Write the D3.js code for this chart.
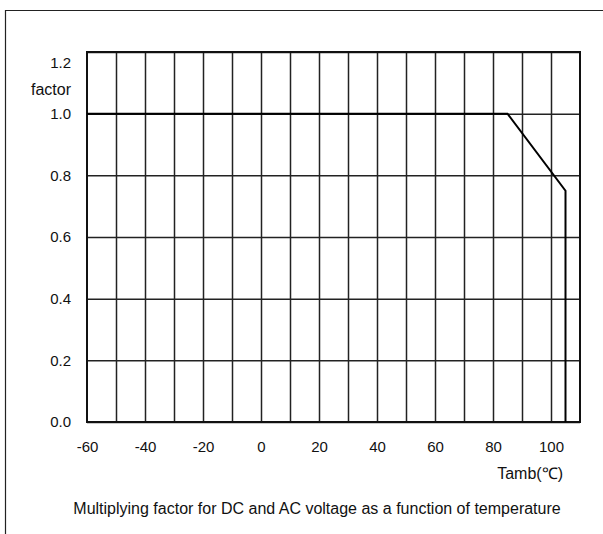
<!DOCTYPE html>
<html>
<head>
	<script src="https://cdnjs.cloudflare.com/ajax/libs/d3/7.8.2/d3.min.js"></script>
	<style>
		body { margin: 0 ; background: white ; }
		svg { display: block ; font-family: "Liberation Sans", Arial, sans-serif ; }
	</style>
</head>
<body>
	<svg id="canvas"></svg>
<script>
	// derating curve: multiplying factor vs ambient temperature
	let curveTemp = [ -60, 85, 105, 105 ] ;
	let curveFactor = [ 1.0, 1.0, 0.75, 0.0 ] ;

	let xTickLabels = [ -60, -40, -20, 0, 20, 40, 60, 80, 100 ] ;
	let xGrid = [ -50, -40, -30, -20, -10, 0, 10, 20, 30, 40, 50, 60, 70, 80, 90, 100 ] ;
	let yTickLabels = [ 0.0, 0.2, 0.4, 0.6, 0.8, 1.0, 1.2 ] ;

	let geom = {
		width: 603,
		height: 534,
		margin: { left: 87, right: 23, top: 52, bottom: 112 }
	} ;

	let scales = {
		x: d3.scaleLinear()
			.domain( [ -60, 110 ] )
			.range( [ geom.margin.left, geom.width - geom.margin.right ] ),
		y: d3.scaleLinear()
			.domain( [ 0, 1.2 ] )
			.range( [ geom.height - geom.margin.bottom, geom.margin.top ] )
	} ;

	let svg = d3.select( 'svg' )
		.attr( 'width', geom.width )
		.attr( 'height', geom.height ) ;

	// outer frame (only top and left edges are visible)
	svg.append( 'path' )
		.attr( 'd', 'M5.5,534 L5.5,10.5 L603,10.5' )
		.attr( 'fill', 'none' )
		.attr( 'stroke', '#222' )
		.attr( 'stroke-width', 1.2 ) ;

	let plotBottom = scales.y( 0 ) ;
	let plotTop = scales.y( 1.2 ) ;
	let plotLeft = scales.x( -60 ) ;
	let plotRight = scales.x( 110 ) ;

	// vertical grid
	svg.append( 'g' )
		.attr( 'class', 'xgrid' )
		.attr( 'transform', 'translate(0,' + plotBottom + ')' )
		.call( d3.axisBottom( scales.x )
			.tickValues( xGrid )
			.tickSize( -( plotBottom - plotTop ) )
			.tickFormat( '' ) )
		.call( g => g.select( '.domain' ).remove() )
		.selectAll( 'line' )
			.attr( 'stroke', '#222' )
			.attr( 'stroke-width', 1.5 ) ;

	// horizontal grid
	svg.append( 'g' )
		.attr( 'class', 'ygrid' )
		.attr( 'transform', 'translate(' + plotLeft + ',0)' )
		.call( d3.axisLeft( scales.y )
			.tickValues( yTickLabels )
			.tickSize( -( plotRight - plotLeft ) )
			.tickFormat( '' ) )
		.call( g => g.select( '.domain' ).remove() )
		.selectAll( 'line' )
			.attr( 'stroke', '#222' )
			.attr( 'stroke-width', 1.5 ) ;

	// plot frame
	svg.append( 'rect' )
		.attr( 'x', plotLeft )
		.attr( 'y', plotTop )
		.attr( 'width', plotRight - plotLeft )
		.attr( 'height', plotBottom - plotTop )
		.attr( 'fill', 'none' )
		.attr( 'stroke', '#111' )
		.attr( 'stroke-width', 2 ) ;

	// x tick labels (plain hyphen for negatives, as in the original)
	let xaxis = svg.append( 'g' )
		.attr( 'class', 'xaxis' )
		.attr( 'transform', 'translate(0,' + plotBottom + ')' )
		.call( d3.axisBottom( scales.x )
			.tickValues( xTickLabels )
			.tickSize( 0 )
			.tickPadding( 19 )
			.tickFormat( d => String( d ) ) ) ;
	xaxis.select( '.domain' ).remove() ;
	xaxis.selectAll( 'text' )
		.attr( 'font-size', 15 )
		.attr( 'font-family', '"Liberation Sans", Arial, sans-serif' )
		.attr( 'fill', '#111' ) ;

	// y tick labels
	let yaxis = svg.append( 'g' )
		.attr( 'class', 'yaxis' )
		.attr( 'transform', 'translate(' + plotLeft + ',0)' )
		.call( d3.axisLeft( scales.y )
			.tickValues( yTickLabels )
			.tickSize( 0 )
			.tickPadding( 16 )
			.tickFormat( d3.format( '.1f' ) ) ) ;
	yaxis.select( '.domain' ).remove() ;
	yaxis.selectAll( 'text' )
		.attr( 'font-size', 15 )
		.attr( 'font-family', '"Liberation Sans", Arial, sans-serif' )
		.attr( 'fill', '#111' )
		.attr( 'dy', d => d == 1.2 ? '1.05em' : '0.32em' ) ;

	// axis titles
	svg.append( 'text' )
		.attr( 'x', plotLeft - 16 )
		.attr( 'y', scales.y( 1.1 ) + 12 )
		.attr( 'text-anchor', 'end' )
		.attr( 'font-size', 16 )
		.attr( 'fill', '#111' )
		.text( 'factor' ) ;

	svg.append( 'text' )
		.attr( 'x', 563 )
		.attr( 'y', 479 )
		.attr( 'text-anchor', 'end' )
		.attr( 'font-size', 16 )
		.attr( 'fill', '#111' )
		.text( 'Tamb(℃)' ) ;

	svg.append( 'text' )
		.attr( 'x', 317 )
		.attr( 'y', 514 )
		.attr( 'text-anchor', 'middle' )
		.attr( 'font-size', 16 )
		.attr( 'fill', '#111' )
		.text( 'Multiplying factor for DC and AC voltage as a function of temperature' ) ;

	// the curve
	let line = d3.line()
		.x( (d, i) => scales.x( curveTemp[i] ) )
		.y( (d, i) => scales.y( curveFactor[i] ) ) ;
	svg.append( 'path' )
		.attr( 'class', 'main' )
		.attr( 'd', line( curveTemp ) )
		.attr( 'fill', 'none' )
		.attr( 'stroke', 'black' )
		.attr( 'stroke-width', 2 ) ;
</script>
</body>
</html>
